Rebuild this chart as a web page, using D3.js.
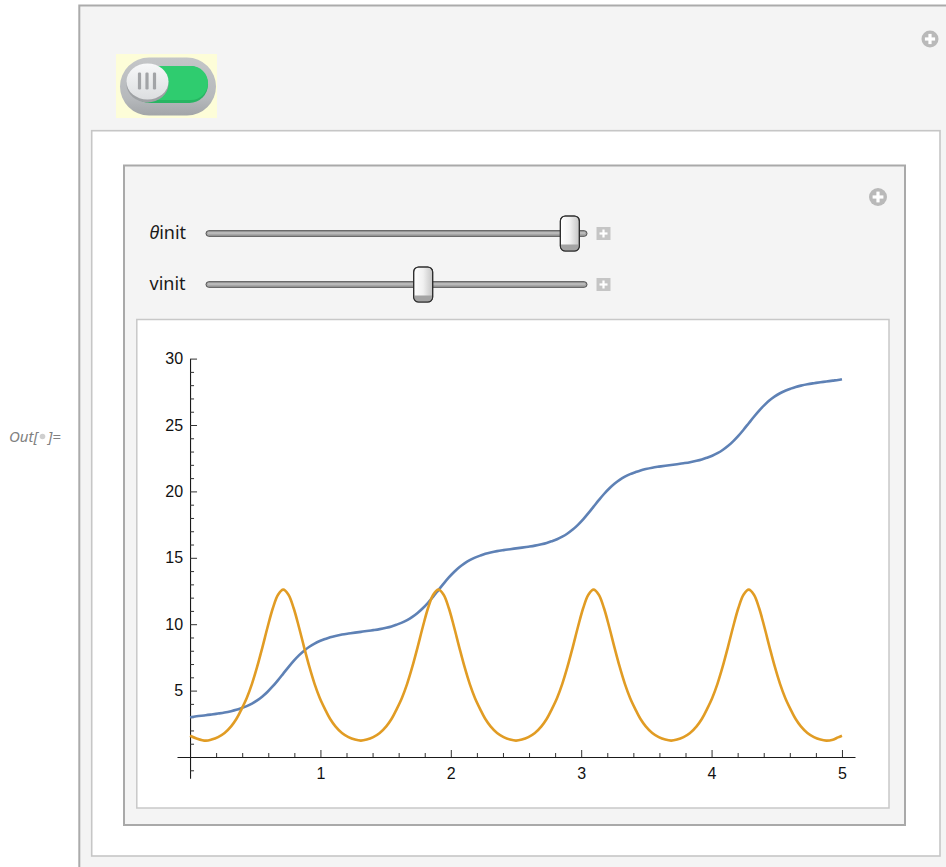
<!DOCTYPE html>
<html><head><meta charset="utf-8">
<script src="https://cdn.jsdelivr.net/npm/d3@7"></script>
<style>body{margin:0;background:#fff;} svg{display:block;}</style>
</head><body>
<svg id="c" width="946" height="867"></svg>
<script>
// ---- data ----
const times = [0, 0.05, 0.12,
 0.165, 0.215, 0.265, 0.315, 0.355, 0.395, 0.435, 0.475, 0.515, 0.555, 0.595, 0.635, 0.675, 0.715, 0.755, 0.795, 0.835, 0.875, 0.915, 0.955, 0.995, 1.035, 1.075, 1.115, 1.165, 1.215, 1.265, 1.31,
 1.355, 1.405, 1.455, 1.505, 1.545, 1.585, 1.625, 1.665, 1.705, 1.745, 1.785, 1.825, 1.865, 1.905, 1.945, 1.985, 2.025, 2.065, 2.105, 2.145, 2.185, 2.225, 2.265, 2.305, 2.355, 2.405, 2.455, 2.5,
 2.545, 2.595, 2.645, 2.695, 2.735, 2.775, 2.815, 2.855, 2.895, 2.935, 2.975, 3.015, 3.055, 3.095, 3.135, 3.175, 3.215, 3.255, 3.295, 3.335, 3.375, 3.415, 3.455, 3.495, 3.545, 3.595, 3.645, 3.69,
 3.735, 3.785, 3.835, 3.885, 3.925, 3.965, 4.005, 4.045, 4.085, 4.125, 4.165, 4.205, 4.245, 4.285, 4.325, 4.365, 4.405, 4.445, 4.485, 4.525, 4.565, 4.605, 4.645, 4.685, 4.735, 4.785, 4.835, 4.88,
 4.93, 4.97, 5];

const thetaValues = [3.0, 3.07, 3.142,
 3.200, 3.270, 3.348, 3.451, 3.552, 3.686, 3.835, 4.025, 4.265, 4.560, 4.917, 5.329, 5.793, 6.283, 6.773, 7.237, 7.649, 8.006, 8.301, 8.541, 8.731, 8.880, 9.014, 9.115, 9.218, 9.296, 9.366, 9.425,
 9.483, 9.553, 9.631, 9.734, 9.835, 9.969, 10.118, 10.308, 10.548, 10.843, 11.200, 11.612, 12.076, 12.566, 13.056, 13.520, 13.932, 14.289, 14.584, 14.824, 15.014, 15.163, 15.297, 15.398, 15.501, 15.579, 15.649, 15.708,
 15.767, 15.837, 15.915, 16.018, 16.119, 16.253, 16.402, 16.592, 16.832, 17.127, 17.484, 17.896, 18.360, 18.850, 19.340, 19.804, 20.216, 20.573, 20.868, 21.108, 21.298, 21.447, 21.581, 21.682, 21.785, 21.863, 21.933, 21.991,
 22.050, 22.120, 22.198, 22.301, 22.402, 22.536, 22.685, 22.875, 23.115, 23.410, 23.767, 24.179, 24.643, 25.133, 25.623, 26.087, 26.499, 26.856, 27.151, 27.391, 27.581, 27.730, 27.864, 27.965, 28.068, 28.146, 28.216, 28.274,
 28.34, 28.39, 28.45];

const omegaValues = [1.6, 1.4, 1.23,
 1.31, 1.50, 1.81, 2.31, 2.86, 3.61, 4.45, 5.51, 6.80, 8.26, 9.79, 11.20, 12.22, 12.60, 12.22, 11.20, 9.79, 8.26, 6.80, 5.51, 4.45, 3.61, 2.86, 2.31, 1.81, 1.50, 1.31, 1.23,
 1.31, 1.50, 1.81, 2.31, 2.86, 3.61, 4.45, 5.51, 6.80, 8.26, 9.79, 11.20, 12.22, 12.60, 12.22, 11.20, 9.79, 8.26, 6.80, 5.51, 4.45, 3.61, 2.86, 2.31, 1.81, 1.50, 1.31, 1.23,
 1.31, 1.50, 1.81, 2.31, 2.86, 3.61, 4.45, 5.51, 6.80, 8.26, 9.79, 11.20, 12.22, 12.60, 12.22, 11.20, 9.79, 8.26, 6.80, 5.51, 4.45, 3.61, 2.86, 2.31, 1.81, 1.50, 1.31, 1.23,
 1.31, 1.50, 1.81, 2.31, 2.86, 3.61, 4.45, 5.51, 6.80, 8.26, 9.79, 11.20, 12.22, 12.60, 12.22, 11.20, 9.79, 8.26, 6.80, 5.51, 4.45, 3.61, 2.86, 2.31, 1.81, 1.50, 1.31, 1.23,
 1.30, 1.48, 1.6];

const xTickLabels = [1, 2, 3, 4, 5];
const yTickLabels = [5, 10, 15, 20, 25, 30];
const xMinorTicks = [0.2, 0.4, 0.6, 0.8, 1.2, 1.4, 1.6, 1.8, 2.2, 2.4, 2.6, 2.8, 3.2, 3.4, 3.6, 3.8, 4.2, 4.4, 4.6, 4.8];
const yMinorTicks = [-1, 1, 2, 3, 4, 6, 7, 8, 9, 11, 12, 13, 14, 16, 17, 18, 19, 21, 22, 23, 24, 26, 27, 28, 29];
const sliderLabels = ["θinit", "vinit"];
const sliderValues = [0.955, 0.57];   // thumb position as fraction of track
const seriesColors = ["#5e81b5", "#e19c24"];

// ---- drawing ----
const svg = d3.select("#c");
const defs = svg.append("defs");

// Out label
const outFont = "Noto Sans, DejaVu Sans, sans-serif";
svg.append("text").attr("x", 9).attr("y", 441.5).attr("font-family", outFont)
  .attr("font-style", "italic").attr("font-size", 15).attr("fill", "#808080").text("Out[");
svg.append("circle").attr("cx", 42.5).attr("cy", 436.5).attr("r", 2.8).attr("fill", "#cfcfcf");
svg.append("text").attr("x", 48).attr("y", 441.5).attr("font-family", outFont)
  .attr("font-style", "italic").attr("font-size", 15).attr("fill", "#808080").text("]=");

// outer frame
svg.append("rect").attr("x", 79.3).attr("y", 5.5).attr("width", 900).attr("height", 900)
  .attr("fill", "#f4f4f4").attr("stroke", "#ababab").attr("stroke-width", 2);

function plusIcon(cx, cy, r) {
  svg.append("circle").attr("cx", cx).attr("cy", cy).attr("r", r).attr("fill", "#b9b9b9");
  svg.append("rect").attr("x", cx - r * 0.6).attr("y", cy - 1.6).attr("width", r * 1.2).attr("height", 3.2).attr("fill", "#fff");
  svg.append("rect").attr("x", cx - 1.6).attr("y", cy - r * 0.6).attr("width", 3.2).attr("height", r * 1.2).attr("fill", "#fff");
}
plusIcon(930, 39, 8.5);

// toggle switch
svg.append("rect").attr("x", 116).attr("y", 54).attr("width", 101).attr("height", 64).attr("fill", "#fdfdd8");
const gOut = defs.append("linearGradient").attr("id", "gOut").attr("x1", 0).attr("y1", 0).attr("x2", 0).attr("y2", 1);
gOut.append("stop").attr("offset", "0").attr("stop-color", "#c4c6c8");
gOut.append("stop").attr("offset", "0.7").attr("stop-color", "#b6b9bc");
gOut.append("stop").attr("offset", "1").attr("stop-color", "#a2a5a8");
svg.append("rect").attr("x", 120).attr("y", 57.5).attr("width", 96).attr("height", 58).attr("rx", 29).attr("fill", "url(#gOut)");
svg.append("rect").attr("x", 131).attr("y", 66).attr("width", 77).attr("height", 37).attr("rx", 18.5).attr("fill", "#27b562");
svg.append("rect").attr("x", 131).attr("y", 66).attr("width", 77).attr("height", 34).attr("rx", 17).attr("fill", "#2fcc6f");
const gKnob = defs.append("linearGradient").attr("id", "gKnob").attr("x1", 0).attr("y1", 0).attr("x2", 0).attr("y2", 1);
gKnob.append("stop").attr("offset", "0").attr("stop-color", "#f7f8f9");
gKnob.append("stop").attr("offset", "1").attr("stop-color", "#dcdee0");
svg.append("ellipse").attr("cx", 147.5).attr("cy", 84).attr("rx", 21).attr("ry", 18.5).attr("fill", "#9ea1a4");
svg.append("ellipse").attr("cx", 147.5).attr("cy", 81.5).attr("rx", 21).attr("ry", 18).attr("fill", "url(#gKnob)");
[139.5, 147, 154.5].forEach(bx => {
  svg.append("rect").attr("x", bx - 1.6).attr("y", 72.5).attr("width", 3.2).attr("height", 17).attr("rx", 1.2).attr("fill", "#a2a4a7");
});

// white content box
svg.append("rect").attr("x", 91.7).attr("y", 130.7).attr("width", 848.3).attr("height", 725.3)
  .attr("fill", "#fff").attr("stroke", "#c6c6c6").attr("stroke-width", 1.6);

// manipulate panel
svg.append("rect").attr("x", 124).attr("y", 165.5).attr("width", 781).attr("height", 659.5)
  .attr("fill", "#f4f4f4").attr("stroke", "#a9a9a9").attr("stroke-width", 2);
plusIcon(878, 197, 9);

// sliders
const gThumb = defs.append("linearGradient").attr("id", "gThumb").attr("x1", 0).attr("y1", 0).attr("x2", 1).attr("y2", 0);
gThumb.append("stop").attr("offset", "0").attr("stop-color", "#ffffff");
gThumb.append("stop").attr("offset", "0.5").attr("stop-color", "#f0f0f0");
gThumb.append("stop").attr("offset", "1").attr("stop-color", "#c4c4c4");
const trackX0 = 206, trackX1 = 587;
const sliderY = [233.5, 284.5];
sliderLabels.forEach((lab, i) => {
  const cy = sliderY[i];
  const t = svg.append("text").attr("x", 149.5).attr("y", cy + 5).attr("font-family", "Noto Sans, Open Sans, sans-serif")
    .attr("font-size", 18).attr("fill", "#1a1a1a");
  if (lab.startsWith("θ")) {
    t.append("tspan").attr("font-style", "italic").text("θ");
    t.append("tspan").text(lab.slice(1));
  } else t.text(lab);
  svg.append("rect").attr("x", trackX0).attr("y", cy - 2.8).attr("width", trackX1 - trackX0).attr("height", 5.6).attr("rx", 2.8)
    .attr("fill", "#a6a6a6").attr("stroke", "#4e4e4e").attr("stroke-width", 1);
  svg.append("rect").attr("x", trackX0 + 2).attr("y", cy - 1.2).attr("width", trackX1 - trackX0 - 4).attr("height", 1.4)
    .attr("fill", "#c2c2c2");
  const tx = trackX0 + sliderValues[i] * (trackX1 - trackX0);
  const g = svg.append("g");
  g.append("rect").attr("x", tx - 9.5).attr("y", cy - 17.5).attr("width", 19).attr("height", 35).attr("rx", 5)
    .attr("fill", "url(#gThumb)").attr("stroke", "#2e2e2e").attr("stroke-width", 1.1);
  g.append("path").attr("d", `M${tx - 9} ${cy + 11} L${tx + 9} ${cy + 11} L${tx + 9} ${cy + 12.5} Q${tx + 9} ${cy + 17} ${tx + 4.5} ${cy + 17} L${tx - 4.5} ${cy + 17} Q${tx - 9} ${cy + 17} ${tx - 9} ${cy + 12.5} Z`)
    .attr("fill", "#a4a4a4");
  g.append("rect").attr("x", tx - 9.5).attr("y", cy - 17.5).attr("width", 19).attr("height", 35).attr("rx", 5)
    .attr("fill", "none").attr("stroke", "#2e2e2e").attr("stroke-width", 1.1);
  // small plus square
  svg.append("rect").attr("x", 596.5).attr("y", cy - 6.5).attr("width", 14).attr("height", 13).attr("fill", "#c5c5c5");
  svg.append("rect").attr("x", 599.5).attr("y", cy - 1.1).attr("width", 8).attr("height", 2.2).attr("fill", "#fff");
  svg.append("rect").attr("x", 602.4).attr("y", cy - 4).attr("width", 2.2).attr("height", 8).attr("fill", "#fff");
});

// plot frame
svg.append("rect").attr("x", 136.8).attr("y", 319.5).attr("width", 752.2).attr("height", 488.5)
  .attr("fill", "#fff").attr("stroke", "#c8c8c8").attr("stroke-width", 1.5);

// scales
const x = d3.scaleLinear().domain([-0.1, 5.1]).range([177, 855]);
const y = d3.scaleLinear().domain([-1.6, 30]).range([778.25, 358.6]);

const tickFont = "Liberation Sans, Arial, sans-serif";
// x axis
const xAxisG = svg.append("g").attr("transform", `translate(0,${y(0)})`);
xAxisG.call(d3.axisBottom(x).tickValues(xTickLabels).tickSizeInner(-7).tickSizeOuter(0).tickPadding(11).tickFormat(d3.format("d")));
const xMinorG = svg.append("g").attr("transform", `translate(0,${y(0)})`);
xMinorG.call(d3.axisBottom(x).tickValues(xMinorTicks).tickSizeInner(-4).tickSizeOuter(0).tickFormat(""));
xMinorG.select(".domain").remove();
// y axis
const yAxisG = svg.append("g").attr("transform", `translate(${x(0)},0)`);
yAxisG.call(d3.axisLeft(y).tickValues(yTickLabels).tickSizeInner(-7).tickSizeOuter(0).tickPadding(7).tickFormat(d3.format("d")));
const yMinorG = svg.append("g").attr("transform", `translate(${x(0)},0)`);
yMinorG.call(d3.axisLeft(y).tickValues(yMinorTicks).tickSizeInner(-4).tickSizeOuter(0).tickFormat(""));
yMinorG.select(".domain").remove();

[xAxisG, yAxisG, xMinorG, yMinorG].forEach(g => {
  g.selectAll(".domain").attr("stroke", "#1a1a1a").attr("stroke-width", 1.1);
  g.selectAll(".tick line").attr("stroke", "#333").attr("stroke-width", 1);
  g.selectAll(".tick text").attr("font-family", tickFont).attr("font-size", 16).attr("fill", "#111");
});

// series
const line = d3.line().curve(d3.curveCatmullRom.alpha(0.5));
const bluePts = times.map((t, i) => [x(t), y(thetaValues[i])]);
const orangePts = times.map((t, i) => [x(t), y(omegaValues[i])]);
svg.append("path").attr("d", line(bluePts)).attr("fill", "none").attr("stroke", seriesColors[0])
  .attr("stroke-width", 2.6).attr("stroke-linejoin", "round");
svg.append("path").attr("d", line(orangePts)).attr("fill", "none").attr("stroke", seriesColors[1])
  .attr("stroke-width", 2.6).attr("stroke-linejoin", "round");
</script>
</body></html>
